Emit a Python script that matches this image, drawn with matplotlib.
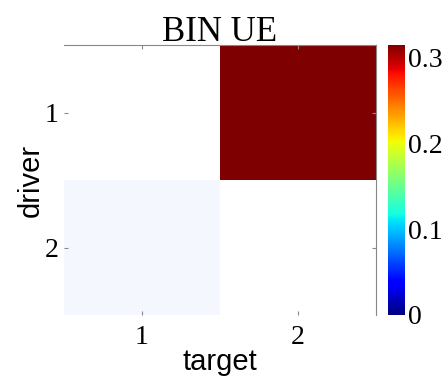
import numpy as np
import matplotlib
matplotlib.use("Agg")
import matplotlib.pyplot as plt

drivers = ["1", "2"]
targets = ["1", "2"]
# rows = driver, cols = target; NaN = diagonal (not shown)
values = np.array([[np.nan, 0.314],
                   [0.063, np.nan]])
# cell opacity (faint for the non-significant cell)
opacity = np.array([[0.0, 1.0],
                    [0.04, 0.0]])
vmax = 0.314

fig = plt.figure(figsize=(4.42, 3.8), dpi=100)
ax = fig.add_axes([64 / 442, 1 - 315 / 380, 312 / 442, 270 / 380])
cax = fig.add_axes([388 / 442, 1 - 315 / 380, 17 / 442, 270 / 380])

im = ax.imshow(np.nan_to_num(values), cmap="jet", vmin=0, vmax=vmax,
               alpha=opacity, aspect="auto", interpolation="nearest")

ax.set_xticks(range(len(targets)))
ax.set_xticklabels(targets)
ax.set_yticks(range(len(drivers)))
ax.set_yticklabels(drivers)
for lab in ax.get_xticklabels() + ax.get_yticklabels():
    lab.set_fontfamily("Liberation Serif")
    lab.set_fontsize(20)
ax.tick_params(direction="in", length=3, color="#888888", top=True, right=True)
ax.tick_params(axis="x", pad=7)
ax.tick_params(axis="y", pad=4)
ax.spines["left"].set_visible(False)
ax.spines["bottom"].set_visible(False)
ax.spines["top"].set_color("#888888")
ax.spines["right"].set_color("#888888")

ax.set_title("BIN UE", fontfamily="Liberation Serif", fontsize=25, pad=3)
ax.set_xlabel("target", fontfamily="Liberation Sans", fontsize=21, labelpad=-1)
ax.set_ylabel("driver", fontfamily="Liberation Sans", fontsize=21, labelpad=0)

sm = matplotlib.cm.ScalarMappable(cmap="jet",
                                  norm=matplotlib.colors.Normalize(0, vmax))
cb = fig.colorbar(sm, cax=cax, ticks=[0, 0.1, 0.2, 0.3])
cb.ax.set_yticklabels(["0", "0.1", "0.2", "0.3"])
for lab in cb.ax.get_yticklabels():
    lab.set_fontfamily("Liberation Serif")
    lab.set_fontsize(20)
cb.ax.tick_params(length=0, pad=2)
cb.outline.set_visible(False)

fig.savefig("out.png", dpi=100)
